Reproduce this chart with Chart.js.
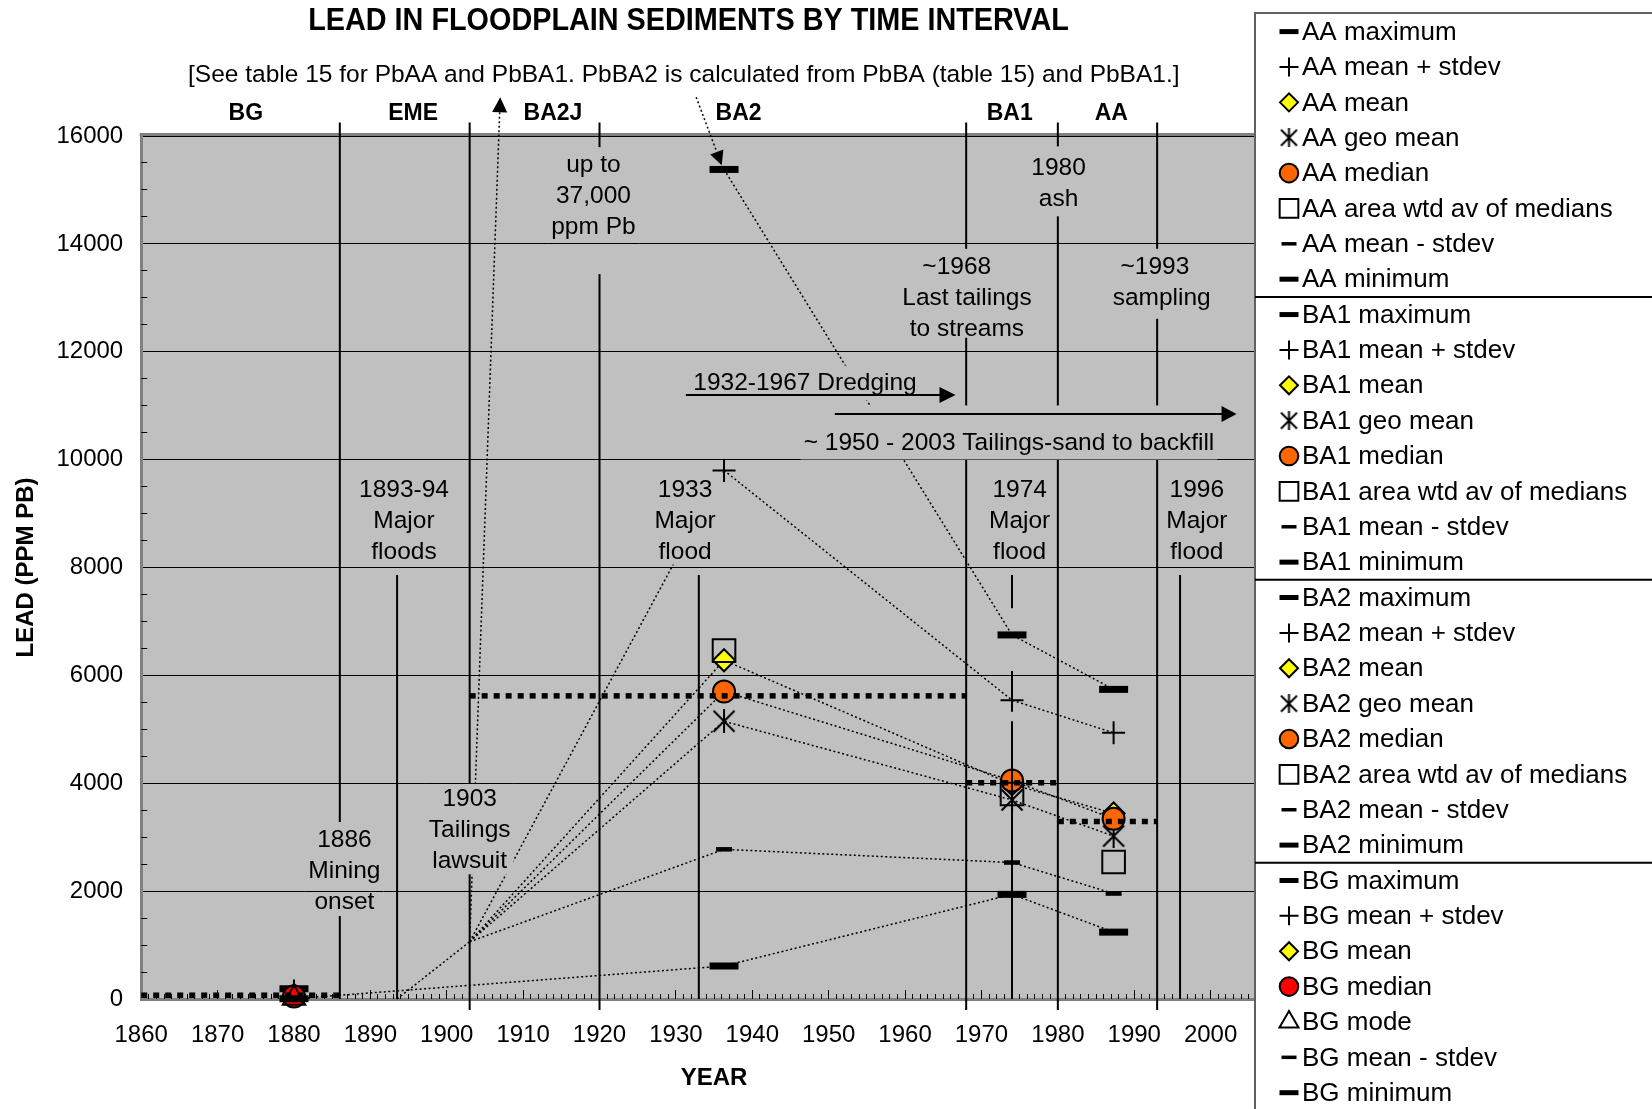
<!DOCTYPE html>
<html>
<head>
<meta charset="utf-8">
<title>Lead in floodplain sediments by time interval</title>
<script src="https://cdn.jsdelivr.net/npm/chart.js@4.4.1/dist/chart.umd.min.js"></script>
<style>
  html, body { margin: 0; padding: 0; background: #fff; }
  canvas { display: block; }
</style>
</head>
<body>
<canvas id="leadChart" width="1652" height="1109"></canvas>
<script>
const FONT = "'Liberation Sans', Arial, Helvetica, sans-serif";
const PLOT_GREY = '#c0c0c0';

// where each sampled interval sits on the time axis
const intervalNames = ['BG', 'BA2', 'BA1', 'AA'];
const intervalYears = [1880, 1936.3, 1974, 1987.3];

// lead statistics (ppm Pb), same order as intervalNames
const pbMaximum     = [190, 15380, 6750, 5740];
const pbMeanPlusSd  = [150, 9800, 5540, 4935];
const pbMean        = [75, 6280, 3980, 3440];
const pbGeoMean     = [null, 5150, 3690, 3020];
const pbMedian      = [45, 5700, 4050, 3340];
const pbAreaWtd     = [null, 6460, 3800, 2540];
const pbMode        = [15, null, null, null];
const pbMeanMinusSd = [5, 2775, 2530, 1955];
const pbMinimum     = [5, 612, 1940, 1240];

// thick dotted level across each interval
const stepStart = [1860, 1903, 1968, 1980];
const stepEnd   = [1886, 1968, 1980, 1993];
const stepPb    = [70, 5620, 4010, 3290];

// BA2J tie point the BA2 lines run back to, and the EME start
const junction = { x: 1903, y: 1062 };
const emeStart = { x: 1893.5, y: 0 };
// BA2J maximum runs off the top (up to 37,000 ppm)
const offChart = { x: 1907, y: 16720 };

const xTickYears = [1860, 1870, 1880, 1890, 1900, 1910, 1920, 1930, 1940, 1950, 1960, 1970, 1980, 1990, 2000];
const yTickPb = [0, 2000, 4000, 6000, 8000, 10000, 12000, 14000, 16000];

const periodNames  = ['BG', 'EME', 'BA2J', 'BA2', 'BA1', 'AA'];
const periodCentre = [1873.7, 1895.6, 1913.9, 1938.2, 1973.7, 1987];
const boundaryYears = [1886, 1903, 1920, 1968, 1980, 1993];
const boundaryBelowAxis = [false, true, true, true, true, true];
const floodYears = [1893.5, 1933, 1996];
const floodLineTop = 7860;
const flood1974 = 1974;
const flood1974Pieces = [[7860, 7245], [6080, 5730], [5150, 0]];

const statNames  = ['maximum', 'mean + stdev', 'mean', 'geo mean', 'median', 'area wtd av of medians', 'mode', 'mean - stdev', 'minimum'];
const statValues = [pbMaximum, pbMeanPlusSd, pbMean, pbGeoMean, pbMedian, pbAreaWtd, pbMode, pbMeanMinusSd, pbMinimum];
const statLooks  = ['extreme', 'plus', 'diamond', 'star', 'circle', 'square', 'triangle', 'dash', 'extreme'];
const legendOrder = ['AA', 'BA1', 'BA2', 'BG'];

// text notes on the plot, first line centred at (year, pb)
const LINE = 31;
const notes = [
  { lines: ['up to', '37,000', 'ppm Pb'], year: 1919.2, pb: 15460, padBottom: 47 },
  { lines: ['1980', 'ash'], year: 1980.1, pb: 15400, padTop: 22, padBottom: 17 },
  { lines: ['~1968   ', 'Last tailings', 'to streams'], year: 1968.1, pb: 13575, padBottom: 9 },
  { lines: ['~1993  ', 'sampling'], year: 1993.6, pb: 13575, padBottom: 21 },
  { lines: ['1932-1967 Dredging'], year: 1946.9, pb: 11410, padBottom: 17 },
  { lines: ['~ 1950 - 2003 Tailings-sand to backfill'], year: 1973.6, pb: 10300, padTop: 38, padBottom: 16 },
  { lines: ['1893-94', 'Major', 'floods'], year: 1894.4, pb: 9426, padBottom: 12 },
  { lines: ['1933', 'Major', 'flood'], year: 1931.2, pb: 9426, padBottom: 12, padX: 8 },
  { lines: ['1974', 'Major', 'flood'], year: 1975.0, pb: 9426, padBottom: 12 },
  { lines: ['1996', 'Major', 'flood'], year: 1998.2, pb: 9426, padBottom: 12 },
  { lines: ['1903', 'Tailings', 'lawsuit'], year: 1903.0, pb: 3702, padTop: 16, padBottom: 13 },
  { lines: ['1886', 'Mining', 'onset'], year: 1886.6, pb: 2947 }
];

const arrows = [
  { from: [junction.x, junction.y], to: [offChart.x, offChart.y], headOnly: true, head: 15, half: 7.5 },
  { from: [1932.65, 16720], to: [1936.0, 15460], dotted: true, head: 14, half: 7 },
  { from: [1931.3, 11196], to: [1966.6, 11196], head: 16, half: 8 },
  { from: [1950.8, 10845], to: [2003.4, 10845], head: 15, half: 8 }
];

function makeStar(size, lw) {
  const c = document.createElement('canvas');
  c.width = size; c.height = size;
  const g = c.getContext('2d');
  const a = lw / 2 + 0.5, b = size - a, m = size / 2;
  g.strokeStyle = '#000';
  g.lineWidth = lw;
  g.beginPath();
  g.moveTo(a, a); g.lineTo(b, b);
  g.moveTo(b, a); g.lineTo(a, b);
  g.moveTo(m, 0); g.lineTo(m, size);
  g.stroke();
  return c;
}
const starBig = makeStar(24, 2);
const starSmall = makeStar(19, 2);

function look(kind, group) {
  const base = { pointBorderColor: '#000', pointBackgroundColor: '#000', pointBorderWidth: 2 };
  switch (kind) {
    case 'extreme':  return { ...base, pointStyle: 'line', pointRadius: 14.5, pointBorderWidth: 7, keyMark: { r: 9.5, w: 5 } };
    case 'dash':     return { ...base, pointStyle: 'line', pointRadius: 8, pointBorderWidth: 4.5, keyMark: { r: 7.5, w: 3.5 } };
    case 'plus':     return { ...base, pointStyle: 'cross', pointRadius: 11.5, keyMark: { r: 9.5, w: 2 } };
    case 'diamond':  return { ...base, pointStyle: 'rectRot', pointRadius: 11, pointBackgroundColor: '#ffff00', keyMark: { r: 9, w: 2 } };
    case 'star':     return { ...base, pointStyle: starBig, pointRadius: 12, keyMark: { img: starSmall } };
    case 'circle':   return { ...base, pointStyle: 'circle', pointRadius: 11, pointBackgroundColor: group === 'BG' ? '#ff0000' : '#ff6600', keyMark: { r: 9.3, w: 2 } };
    case 'square':   return { ...base, pointStyle: 'rect', pointRadius: 16, pointBackgroundColor: 'rgba(0,0,0,0)', keyMark: { r: 13.2, w: 2 } };
    case 'triangle': return { ...base, pointStyle: 'triangle', pointRadius: 13, pointBackgroundColor: 'rgba(0,0,0,0)', keyMark: { r: 11, w: 2 } };
  }
}

// one marker series per legend entry
const markerSets = [];
legendOrder.forEach(group => {
  const i = intervalNames.indexOf(group);
  statNames.forEach((name, s) => {
    const v = statValues[s][i];
    if (v == null) return;
    markerSets.push({
      kind: 'marker', group, label: group + ' ' + name,
      data: [{ x: intervalYears[i], y: v }],
      showLine: false, clip: false, ...look(statLooks[s], group)
    });
  });
});
markerSets.forEach((d, k) => { d.order = 2 - k / 100; });

// dotted lines tracing each statistic through the intervals
const trace = (vals, from) => intervalYears.slice(from).map((yr, k) => ({ x: yr, y: vals[from + k] }));
const dotted = pts => ({
  kind: 'connector', data: pts, showLine: true, borderColor: '#000', borderWidth: 1.5,
  borderDash: [2, 2.5], pointRadius: 0, clip: false, order: 3
});
const connectorSets = [
  dotted([emeStart, junction]),
  dotted([junction, offChart]),
  dotted(trace(pbMaximum, 1)),
  dotted(trace(pbMinimum, 0)),
  ...[pbMeanPlusSd, pbMean, pbGeoMean, pbMedian, pbMeanMinusSd].map(v => dotted([junction, ...trace(v, 1)]))
];

const stepSets = stepStart.map((s, i) => ({
  kind: 'step', data: [{ x: s, y: stepPb[i] }, { x: stepEnd[i], y: stepPb[i] }],
  showLine: true, borderColor: '#000', borderWidth: 5.5, borderDash: [6, 6], borderCapStyle: 'butt',
  pointRadius: 0, clip: false, order: 0
}));

const align = p => Math.round(p - 0.5) + 0.5;

function drawArrow(ctx, x1, y1, x2, y2, a) {
  const ang = Math.atan2(y2 - y1, x2 - x1), c = Math.cos(ang), s = Math.sin(ang);
  if (!a.headOnly) {
    ctx.save();
    ctx.setLineDash(a.dotted ? [2, 2.5] : []);
    ctx.lineWidth = a.dotted ? 1.5 : 2;
    ctx.beginPath();
    ctx.moveTo(x1, y1);
    ctx.lineTo(x2 - c * a.head * 0.8, y2 - s * a.head * 0.8);
    ctx.stroke();
    ctx.restore();
  }
  ctx.beginPath();
  ctx.moveTo(x2, y2);
  ctx.lineTo(x2 - a.head * c + a.half * s, y2 - a.head * s - a.half * c);
  ctx.lineTo(x2 - a.head * c - a.half * s, y2 - a.head * s + a.half * c);
  ctx.closePath();
  ctx.fill();
}

function drawNotes(chart) {
  const { ctx, scales: { x, y } } = chart;
  ctx.save();
  ctx.font = '24.5px ' + FONT;
  const boxes = notes.map(n => {
    const cx = x.getPixelForValue(n.year), cy = y.getPixelForValue(n.pb);
    const w = Math.max(...n.lines.map(t => ctx.measureText(t).width));
    const padX = n.padX ?? 3;
    return {
      n, cx, cy, left: cx - w / 2 - padX, right: cx + w / 2 + padX,
      top: cy - (n.padTop ?? 18), bottom: cy + LINE * (n.lines.length - 1) + (n.padBottom ?? 14)
    };
  });
  ctx.fillStyle = PLOT_GREY;
  boxes.forEach(b => ctx.fillRect(b.left, b.top, b.right - b.left, b.bottom - b.top));
  ctx.strokeStyle = '#000';
  ctx.lineWidth = 1;
  boxes.forEach(b => yTickPb.forEach(v => {
    const yy = align(y.getPixelForValue(v));
    if (yy > b.top && yy < b.bottom) {
      ctx.beginPath(); ctx.moveTo(b.left, yy); ctx.lineTo(b.right, yy); ctx.stroke();
    }
  }));
  ctx.fillStyle = '#000';
  ctx.textAlign = 'center';
  ctx.textBaseline = 'middle';
  boxes.forEach(b => b.n.lines.forEach((t, k) => ctx.fillText(t, b.cx, b.cy + k * LINE)));
  arrows.forEach(a => drawArrow(ctx,
    x.getPixelForValue(a.from[0]), y.getPixelForValue(a.from[1]),
    x.getPixelForValue(a.to[0]), y.getPixelForValue(a.to[1]), a));
  ctx.restore();
}

function drawLegend(chart) {
  const ctx = chart.ctx;
  const L = 1255, T = 13, first = 31.6, step = 35.37, markX = 1289, textX = 1302;
  ctx.save();
  ctx.fillStyle = '#fff';
  ctx.fillRect(L, T, 420, 1120);
  ctx.strokeStyle = '#606060';
  ctx.lineWidth = 2;
  ctx.strokeRect(L, T, 420, 1120);
  ctx.font = '26px ' + FONT;
  ctx.textAlign = 'left';
  ctx.textBaseline = 'middle';
  markerSets.forEach((d, k) => {
    const yy = first + k * step;
    if (k > 0 && d.group !== markerSets[k - 1].group) {
      ctx.strokeStyle = '#000';
      ctx.lineWidth = 2;
      ctx.beginPath();
      ctx.moveTo(L, yy - step / 2); ctx.lineTo(1652, yy - step / 2);
      ctx.stroke();
    }
    const m = d.keyMark;
    if (m.img) {
      ctx.drawImage(m.img, markX - m.img.width / 2, yy - m.img.height / 2);
    } else {
      ctx.strokeStyle = d.pointBorderColor;
      ctx.fillStyle = d.pointBackgroundColor;
      ctx.lineWidth = m.w;
      Chart.helpers.drawPoint(ctx, { pointStyle: d.pointStyle, radius: m.r, rotation: 0, borderWidth: m.w }, markX, yy);
    }
    ctx.fillStyle = '#000';
    ctx.fillText(d.label, textX, yy + 1);
  });
  ctx.restore();
}

const overlay = {
  id: 'overlay',
  beforeDraw(chart) {
    chart.$notesDone = false;
    const { ctx, chartArea: a } = chart;
    ctx.save();
    ctx.fillStyle = PLOT_GREY;
    ctx.fillRect(a.left, a.top, a.right - a.left, a.bottom - a.top);
    ctx.restore();
  },
  beforeDatasetsDraw(chart) {
    const { ctx, chartArea: a, scales: { x, y } } = chart;
    ctx.save();
    ctx.strokeStyle = '#000';
    ctx.lineWidth = 1;
    ctx.beginPath();
    for (let v = 500; v < 16000; v += 500) {
      if (v % 2000 === 0) continue;
      const yy = align(y.getPixelForValue(v));
      ctx.moveTo(a.left, yy); ctx.lineTo(a.left + 6, yy);
    }
    for (let yr = 1861; yr < 2010; yr++) {
      const xx = align(x.getPixelForValue(yr));
      ctx.moveTo(xx, a.bottom); ctx.lineTo(xx, a.bottom - (yr % 10 === 0 ? 9 : 5));
    }
    ctx.stroke();
    ctx.strokeStyle = '#808080';
    ctx.lineWidth = 3;
    ctx.beginPath();
    ctx.moveTo(a.left - 1.5, a.top - 1.5); ctx.lineTo(a.right, a.top - 1.5);
    ctx.stroke();
    ctx.strokeStyle = '#000';
    ctx.lineWidth = 2;
    ctx.beginPath();
    boundaryYears.forEach((yr, i) => {
      const xx = x.getPixelForValue(yr);
      ctx.moveTo(xx, a.top - 13.5);
      ctx.lineTo(xx, boundaryBelowAxis[i] ? a.bottom + 11 : a.bottom);
    });
    floodYears.forEach(yr => {
      const xx = x.getPixelForValue(yr);
      ctx.moveTo(xx, y.getPixelForValue(floodLineTop)); ctx.lineTo(xx, a.bottom);
    });
    ctx.stroke();
    ctx.restore();
  },
  beforeDatasetDraw(chart, args) {
    if (!chart.$notesDone && chart.data.datasets[args.index].kind === 'marker') {
      chart.$notesDone = true;
      drawNotes(chart);
    }
  },
  afterDatasetsDraw(chart) {
    const { ctx, scales: { x, y } } = chart;
    const xx = x.getPixelForValue(flood1974);
    ctx.save();
    ctx.strokeStyle = '#000';
    ctx.lineWidth = 2;
    ctx.beginPath();
    flood1974Pieces.forEach(([hi, lo]) => {
      ctx.moveTo(xx, y.getPixelForValue(hi)); ctx.lineTo(xx, y.getPixelForValue(lo));
    });
    ctx.stroke();
    ctx.restore();
  },
  afterDraw(chart) {
    const { ctx, scales: { x } } = chart;
    ctx.save();
    ctx.fillStyle = '#000';
    ctx.textAlign = 'center';
    ctx.textBaseline = 'middle';
    // the original title face is a condensed bold
    ctx.save();
    ctx.translate(688.5, 21);
    ctx.scale(0.9, 1);
    ctx.font = 'bold 32px ' + FONT;
    ctx.fillText('LEAD IN FLOODPLAIN SEDIMENTS BY TIME INTERVAL', 0, 0);
    ctx.restore();
    ctx.font = '24.5px ' + FONT;
    ctx.fillText('[See table 15 for PbAA and PbBA1. PbBA2 is calculated from PbBA (table 15) and PbBA1.]', 683.8, 75);
    ctx.font = 'bold 23px ' + FONT;
    periodNames.forEach((p, i) => ctx.fillText(p, x.getPixelForValue(periodCentre[i]), 114));
    ctx.restore();
    drawLegend(chart);
  }
};

new Chart(document.getElementById('leadChart'), {
  type: 'scatter',
  data: { datasets: [...markerSets, ...connectorSets, ...stepSets] },
  options: {
    responsive: false,
    animation: false,
    events: [],
    layout: { padding: { top: 136, right: 365, bottom: 0, left: 0 } },
    plugins: { legend: { display: false }, tooltip: { enabled: false }, title: { display: false } },
    scales: {
      x: {
        type: 'linear', position: 'bottom', min: 1860, max: 2010,
        afterBuildTicks: s => { s.ticks = xTickYears.map(v => ({ value: v })); },
        afterFit: s => { s.height = 110; },
        grid: { display: false, drawTicks: false },
        border: { display: true, color: '#808080', width: 3 },
        ticks: { color: '#000', font: { family: FONT, size: 24 }, padding: 22, maxRotation: 0, autoSkip: false, callback: v => String(v) },
        title: { display: true, text: 'YEAR', color: '#000', font: { family: FONT, size: 24, weight: 'bold' }, padding: { top: 0, bottom: 16.6 } }
      },
      y: {
        type: 'linear', min: 0, max: 16000,
        afterBuildTicks: s => { s.ticks = yTickPb.map(v => ({ value: v })); },
        afterFit: s => { s.width = 141.2; },
        grid: { color: '#000', lineWidth: 1, drawTicks: false },
        border: { display: true, color: '#808080', width: 3 },
        ticks: { color: '#000', font: { family: FONT, size: 24 }, padding: 18, callback: v => String(v) },
        title: { display: true, text: 'LEAD (PPM PB)', color: '#000', font: { family: FONT, size: 24, weight: 'bold' }, padding: { top: 11.6, bottom: 0 } }
      }
    }
  },
  plugins: [overlay]
});
</script>
</body>
</html>
